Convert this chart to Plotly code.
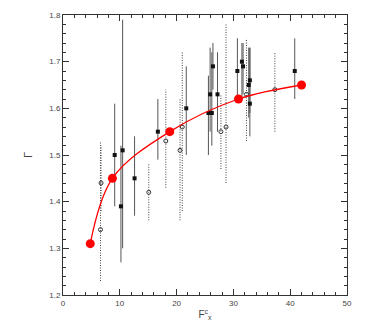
import plotly.graph_objects as go

# filled squares (solid error bars)
sq_x = [9.1, 10.2, 10.5, 12.6, 16.7, 21.7, 25.6, 25.9, 26.2, 26.4, 27.2, 30.7, 31.5, 31.7, 32.7, 32.9, 32.9, 40.8]
sq_y = [1.50, 1.39, 1.51, 1.45, 1.55, 1.60, 1.59, 1.63, 1.59, 1.69, 1.63, 1.68, 1.70, 1.69, 1.65, 1.66, 1.61, 1.68]
sq_lo = [1.39, 1.27, 1.30, 1.37, 1.49, 1.50, 1.50, 1.55, 1.52, 1.64, 1.55, 1.62, 1.62, 1.63, 1.58, 1.59, 1.54, 1.62]
sq_hi = [1.61, 1.52, 1.79, 1.54, 1.62, 1.69, 1.67, 1.73, 1.72, 1.74, 1.72, 1.75, 1.74, 1.74, 1.73, 1.73, 1.73, 1.75]

# open circles (dotted error bars)
oc_x = [6.6, 6.7, 15.1, 18.1, 20.6, 21.0, 27.8, 28.7, 32.3, 37.3]
oc_y = [1.34, 1.44, 1.42, 1.53, 1.51, 1.56, 1.55, 1.56, 1.63, 1.64]
oc_lo = [1.23, 1.38, 1.36, 1.43, 1.36, 1.38, 1.47, 1.44, 1.53, 1.55]
oc_hi = [1.53, 1.52, 1.48, 1.64, 1.62, 1.72, 1.63, 1.78, 1.75, 1.72]

# red model points
red_x = [4.8, 8.7, 18.8, 30.9, 42.0]
red_y = [1.31, 1.45, 1.55, 1.62, 1.65]


def segs(xs, lo, hi):
    X, Y = [], []
    for x, a, b in zip(xs, lo, hi):
        X += [x, x, None]
        Y += [a, b, None]
    return X, Y


fig = go.Figure()

ex, ey = segs(oc_x, oc_lo, oc_hi)
fig.add_trace(go.Scatter(x=ex, y=ey, mode="lines",
                         line=dict(color="#444", width=1, dash="1px,1.5px")))
ex, ey = segs(sq_x, sq_lo, sq_hi)
fig.add_trace(go.Scatter(x=ex, y=ey, mode="lines",
                         line=dict(color="#555", width=1)))

fig.add_trace(go.Scatter(x=oc_x, y=oc_y, mode="markers",
                         marker=dict(symbol="circle-open", size=4, color="#333",
                                     line=dict(width=1))))
fig.add_trace(go.Scatter(x=sq_x, y=sq_y, mode="markers",
                         marker=dict(symbol="square", size=4, color="#111")))

fig.add_trace(go.Scatter(x=red_x, y=red_y, mode="lines+markers",
                         line=dict(color="red", width=1.3, shape="spline", smoothing=1.0),
                         marker=dict(color="red", size=9)))

axis_common = dict(showgrid=False, zeroline=False, showline=True, mirror="allticks",
                   linecolor="#333", linewidth=1, ticks="inside", ticklen=6,
                   tickcolor="#333", tickfont=dict(size=8, color="#444"),
                   automargin=False)

fig.update_xaxes(range=[0, 50], dtick=10,
                 minor=dict(dtick=2, ticks="inside", ticklen=3, tickcolor="#333"),
                 title=dict(text="F<sup>c</sup><sub>x</sub>", font=dict(size=10, color="#444"),
                            standoff=4),
                 **axis_common)
fig.update_yaxes(range=[1.2, 1.8], dtick=0.1, tickformat=".1f",
                 minor=dict(dtick=0.02, ticks="inside", ticklen=3, tickcolor="#333"),
                 title=dict(text="Γ", font=dict(size=11, color="#444"), standoff=14),
                 **axis_common)

# page body adds ~8px offset, so the figure is a bit smaller than the window
fig.update_layout(width=366, height=319, showlegend=False,
                  margin=dict(l=55, r=27, t=7, b=32),
                  plot_bgcolor="white", paper_bgcolor="white",
                  font=dict(family="Liberation Sans, Arial, sans-serif"))

fig.write_html("out.html")
